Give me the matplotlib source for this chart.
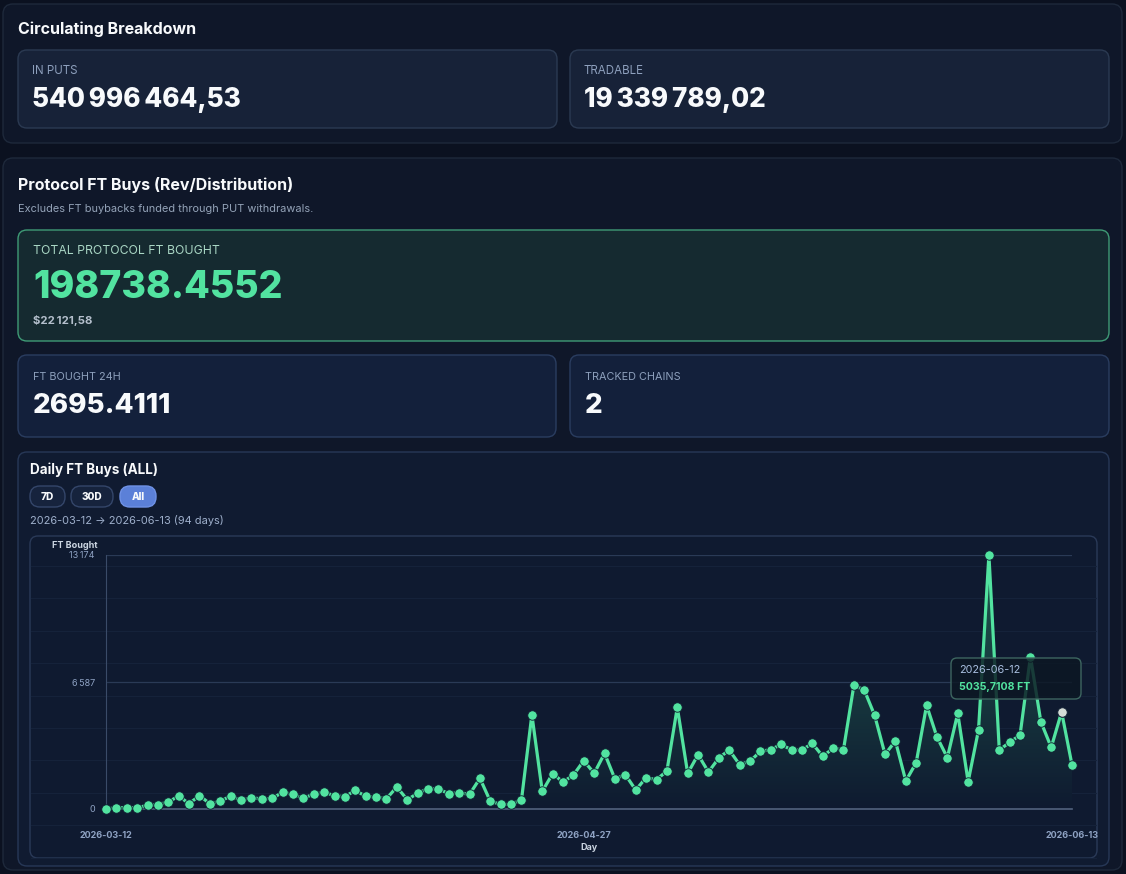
import numpy as np
import pandas as pd
import matplotlib
matplotlib.use('Agg')
import matplotlib.pyplot as plt
from matplotlib.patches import FancyBboxPatch, Polygon

plt.rcParams['font.family'] = ['Inter', 'DejaVu Sans']

# data
days = pd.date_range('2026-03-12', periods=94).strftime('%Y-%m-%d').tolist()
ft_bought = [0, 70, 70, 70, 190, 225, 363, 674, 277, 692, 277, 398, 674, 450, 588, 519,
             553, 864, 761, 553, 778, 864, 692, 640, 968, 657, 622, 536, 1141, 484, 813,
             1055, 1037, 795, 847, 761, 1591, 398, 242, 235, 475, 4893, 916, 1833, 1400,
             1764, 2507, 1850, 2887, 1556, 1781, 986, 1625, 1522, 1971, 5273, 1850, 2818,
             1919, 2645, 3060, 2300, 2472, 2991, 3078, 3354, 3060, 3060, 3406, 2732, 3147,
             3078, 6415, 6172, 4858, 2836, 3527, 1452, 2403, 5377, 3735, 2663, 4962, 1418,
             4098, 13174, 3060, 3458, 3838, 7900, 4530, 3199, 5035.7108, 2282]
y_ticks = [0, 6587, 13174]
x_tick_days = ['2026-03-12', '2026-04-27', '2026-06-13']
hover_day = '2026-06-12'

in_puts = '540\u202f996\u202f464,53'
tradable = '19\u202f339\u202f789,02'
total_bought = '198738.4552'
total_usd = '$22\u202f121,58'
bought_24h = '2695.4111'
tracked_chains = '2'

W, H = 1126, 874
fig = plt.figure(figsize=(W / 100, H / 100), dpi=100)
fig.patch.set_facecolor('#0b1120')


def pixel_axes(z):
    a = fig.add_axes([0, 0, 1, 1], zorder=z)
    a.set_xlim(0, W)
    a.set_ylim(H, 0)
    a.axis('off')
    a.patch.set_alpha(0)
    return a


bg = pixel_axes(0)


def card(a, x0, y0, x1, y1, fc, ec, r=9, lw=1.0):
    a.add_patch(FancyBboxPatch((x0, y0), x1 - x0, y1 - y0,
                               boxstyle='round,pad=0,rounding_size=%d' % r,
                               fc=fc, ec=ec, lw=lw))


def text(a, x, y, s, size, color, weight='normal', **kw):
    a.text(x, y, s, fontsize=size, color=color, fontweight=weight,
           va='center', ha=kw.pop('ha', 'left'), **kw)


label_col = '#8ea0bd'
white = '#f8fafc'
green = '#52e3a0'

# circulating breakdown panel
card(bg, 3, 4, 1122, 143, '#0f1729', '#1e293b', r=10)
text(bg, 18, 29, 'Circulating Breakdown', 11.5, white, 'bold')
card(bg, 18, 50, 557, 128, '#172238', '#2b3a52')
text(bg, 32, 71, 'IN PUTS', 8.3, label_col)
text(bg, 32, 100, in_puts, 18.8, white, 'heavy')
card(bg, 570, 50, 1109, 128, '#172238', '#2b3a52')
text(bg, 584, 71, 'TRADABLE', 8.3, label_col)
text(bg, 584, 100, tradable, 18.8, white, 'heavy')

# protocol panel
card(bg, 3, 158, 1122, 870, '#0f1729', '#1e293b', r=10)
text(bg, 18, 185, 'Protocol FT Buys (Rev/Distribution)', 11.5, white, 'bold')
text(bg, 18, 209, 'Excludes FT buybacks funded through PUT withdrawals.', 7.9, '#94a3b8')

card(bg, 18, 230, 1109, 341, '#152a30', '#3f9b76')
text(bg, 33, 251, 'TOTAL PROTOCOL FT BOUGHT', 8.8, '#a9d6c4')
text(bg, 33, 288, total_bought, 27, green, 'heavy')
text(bg, 33, 320, total_usd, 8.2, '#b4bfcc', 'bold')

card(bg, 18, 355, 556, 437, '#13203b', '#2a3d60')
text(bg, 33, 377, 'FT BOUGHT 24H', 7.8, label_col)
text(bg, 33, 406, bought_24h, 20, white, 'heavy')
card(bg, 570, 355, 1109, 437, '#13203b', '#2a3d60')
text(bg, 585, 377, 'TRACKED CHAINS', 7.8, label_col)
text(bg, 585, 406, tracked_chains, 20, white, 'heavy')

# chart card
card(bg, 18, 452, 1109, 866, '#101b31', '#273857')
text(bg, 30, 470, 'Daily FT Buys (ALL)', 9.7, white, 'bold')
for (x0, x1, lab, active) in [(30, 65, '7D', False), (71, 113, '30D', False), (120, 156, 'All', True)]:
    card(bg, x0, 486, x1, 507, '#5b80d8' if active else '#16233d',
         '#6f92e6' if active else '#34466a', r=10)
    text(bg, (x0 + x1) / 2, 497, lab, 7.2, white, 'heavy', ha='center')
text(bg, 30, 520, '%s \u2192 %s (%d days)' % (days[0], days[-1], len(days)), 7.9, '#9fb0cc')

card(bg, 30, 536, 1097, 858, '#0f1a30', '#2a3a58', r=8)
for yy in np.arange(566, 858, 32.4):
    bg.plot([31, 1096], [yy, yy], color='#15223a', lw=0.8)

# line chart
left, right = 106 / W, 1072 / W
bottom, top = (H - 809) / H, (H - 555) / H
ax = fig.add_axes([left, bottom, right - left, top - bottom], zorder=1)
ax.set_facecolor('none')
x = np.arange(len(days))
ax.set_xlim(0, len(days) - 1)
ax.set_ylim(0, max(y_ticks))

for t in y_ticks[1:]:
    ax.axhline(t, color='#2a3a56', lw=0.9, zorder=1)
for s in ['top', 'right']:
    ax.spines[s].set_visible(False)
ax.spines['left'].set_color('#3a4b68')
ax.spines['bottom'].set_color('#52627d')
ax.spines['bottom'].set_linewidth(1.2)

# gradient under the line
poly = Polygon(np.column_stack([np.r_[x, x[-1], x[0]], np.r_[ft_bought, 0, 0]]),
               closed=True, fc='none', ec='none')
ax.add_patch(poly)
grad = np.linspace(0.32, 0.02, 256).reshape(-1, 1)
cmap = matplotlib.colors.LinearSegmentedColormap.from_list('g', ['#0f1a30', '#1f5a4e'])
im = ax.imshow(grad, cmap=cmap, aspect='auto', extent=[0, len(days) - 1, 0, max(ft_bought)],
               origin='upper', vmin=0.02, vmax=0.32, zorder=2)
im.set_clip_path(poly)

ax.plot(x, ft_bought, color=green, lw=2.3, zorder=3, clip_on=False)
ax.plot(x, ft_bought, 'o', color=green, ms=6.8, mec='#0f1a30', mew=0.6, zorder=4, clip_on=False)
hi = days.index(hover_day)
ax.plot(x[hi], ft_bought[hi], 'o', color='#d4dcd6', ms=6.8, mec='#0f1a30', mew=0.6, zorder=5, clip_on=False)

ax.set_yticks(y_ticks)
ax.set_yticklabels([('{:,}'.format(t)).replace(',', '\u202f') for t in y_ticks])
ax.set_xticks([days.index(d) for d in x_tick_days])
ax.set_xticklabels(x_tick_days)
ax.tick_params(axis='both', length=0, labelsize=6.5, colors='#8fa3c4', pad=8)
ax.tick_params(axis='x', pad=16)
for lab in ax.get_xticklabels():
    lab.set_fontweight('bold')

# overlay: axis titles and tooltip above the chart
top_layer = pixel_axes(2)
text(top_layer, 98, 546, 'FT Bought', 6.5, '#cbd5e1', 'bold', ha='right')
text(top_layer, 589, 848, 'Day', 6.5, '#cbd5e1', 'bold', ha='center')
card(top_layer, 951, 658, 1081, 699, (0.047, 0.09, 0.137, 0.82), '#3d6660', r=6)
text(top_layer, 959, 670, hover_day, 7.8, '#a8bedf')
text(top_layer, 959, 687, '{:.4f} FT'.format(ft_bought[hi]).replace('.', ','), 7.6, green, 'bold')

fig.savefig('out.png', dpi=100, facecolor=fig.get_facecolor())
